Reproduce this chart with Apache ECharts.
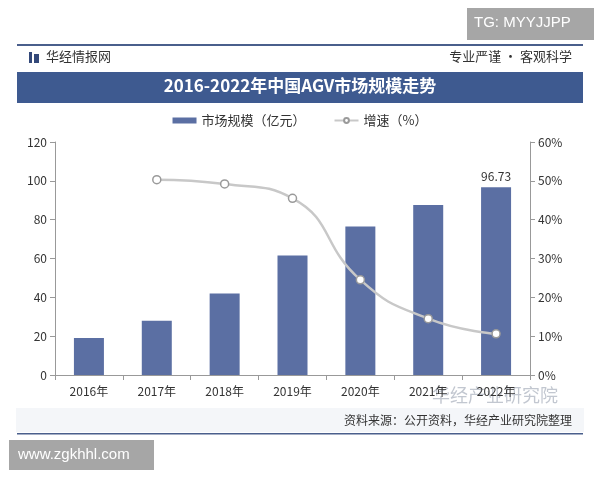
<!DOCTYPE html>
<html>
<head>
<meta charset="utf-8">
<script src="https://cdn.jsdelivr.net/npm/echarts@6/dist/echarts.min.js"></script>
<style>html,body{margin:0;padding:0;background:#fff}#chart{width:600px;height:480px}</style>
</head>
<body>
<div id="chart"></div>
<script>
// 2016-2022 China AGV market
const years = ['2016年', '2017年', '2018年', '2019年', '2020年', '2021年', '2022年'];
const scale = [19, 28, 42, 61.5, 76.5, 87.5, 96.73];
const growth = [null, 50.3, 49.2, 45.5, 24.5, 14.5, 10.6];

const chart = echarts.init(document.getElementById('chart'));
const font = '"Noto Sans CJK SC", sans-serif';
const option = {
    textStyle: {fontFamily: font},
    animation: false,
    legend: {
        top: 109,
        left: 'center',
        itemGap: 28,
        textStyle: {fontSize: 13, color: '#333'},
        data: [
            {name: '市场规模（亿元）', icon: 'rect', itemStyle: {color: '#5b6fa3'}},
            {name: '增速（%）'}
        ],
        itemWidth: 24,
        itemHeight: 6
    },
    grid: {left: 55, right: 70, top: 142, bottom: 105},
    xAxis: {
        type: 'category',
        data: years,
        axisLine: {lineStyle: {color: '#999'}},
        axisTick: {show: true, lineStyle: {color: '#999'}},
        axisLabel: {color: '#333', fontSize: 12, margin: 10}
    },
    yAxis: [
        {
            type: 'value', min: 0, max: 120, interval: 20,
            axisLine: {show: true, lineStyle: {color: '#999'}},
            axisTick: {show: true},
            axisLabel: {color: '#333', fontSize: 12},
            splitLine: {show: false}
        },
        {
            type: 'value', min: 0, max: 60, interval: 10,
            axisLine: {show: true, lineStyle: {color: '#999'}},
            axisTick: {show: true},
            axisLabel: {color: '#333', fontSize: 12, formatter: '{value}%'},
            splitLine: {show: false}
        }
    ],
    series: [
        {
            name: '市场规模（亿元）',
            type: 'bar',
            data: scale,
            barWidth: 30,
            itemStyle: {color: '#5b6fa3'},
            label: {
                show: true, position: 'top', color: '#333', fontSize: 12,
                formatter: p => p.dataIndex === scale.length - 1 ? p.value : ''
            }
        },
        {
            name: '增速（%）',
            type: 'line',
            yAxisIndex: 1,
            data: growth,
            smooth: true,
            symbol: 'circle',
            symbolSize: 8,
            lineStyle: {color: '#c8c8c8', width: 2.5},
            itemStyle: {color: '#fff', borderColor: '#9a9a9a', borderWidth: 1.5}
        }
    ],
    graphic: [
        {type: 'rect', shape: {x: 0, y: 0, width: 600, height: 480}, style: {fill: '#fff'}, z: -10},
        {type: 'rect', shape: {x: 17, y: 44, width: 566, height: 2}, style: {fill: '#4a5f8c'}},
        {type: 'rect', shape: {x: 17, y: 433, width: 566, height: 1.5}, style: {fill: '#4a5f8c'}},
        {type: 'rect', shape: {x: 16, y: 408, width: 568, height: 24}, style: {fill: '#f4f6f9'}, z: -5},
        {type: 'rect', shape: {x: 29, y: 52, width: 3, height: 11}, style: {fill: '#34497a'}},
        {type: 'rect', shape: {x: 34, y: 54, width: 5, height: 9}, style: {fill: '#34497a'}},
        {type: 'text', left: 46, top: 50, style: {text: '华经情报网', fill: '#333', font: '13px ' + font}},
        {type: 'text', right: 28, top: 50, style: {text: '专业严谨 • 客观科学', fill: '#333', font: '13px ' + font}},
        {type: 'rect', shape: {x: 17, y: 72, width: 566, height: 31}, style: {fill: '#3e5a90'}},
        {type: 'text', left: 'center', top: 77, style: {text: '2016-2022年中国AGV市场规模走势', fill: '#fff', font: 'bold 17px "Noto Sans CJK SC", serif'}},
        {type: 'text', right: 28, top: 414, style: {text: '资料来源：公开资料，华经产业研究院整理', fill: '#333', font: '12px ' + font}},
        {type: 'text', left: 432, top: 386, style: {text: '华经产业研究院', fill: 'rgba(120,130,150,0.45)', font: '18px ' + font}},
        {type: 'rect', shape: {x: 467, y: 8, width: 127, height: 32}, style: {fill: '#a6a6a6'}},
        {type: 'text', left: 474, top: 15, style: {text: 'TG: MYYJJPP', fill: '#fff', font: '15px "Liberation Sans", sans-serif'}},
        {type: 'rect', shape: {x: 9, y: 440, width: 145, height: 30}, style: {fill: '#a6a6a6'}},
        {type: 'text', left: 18, top: 447, style: {text: 'www.zgkhhl.com', fill: '#fff', font: '15px "Liberation Sans", sans-serif'}}
    ]
};
chart.setOption(option);
</script>
</body>
</html>
